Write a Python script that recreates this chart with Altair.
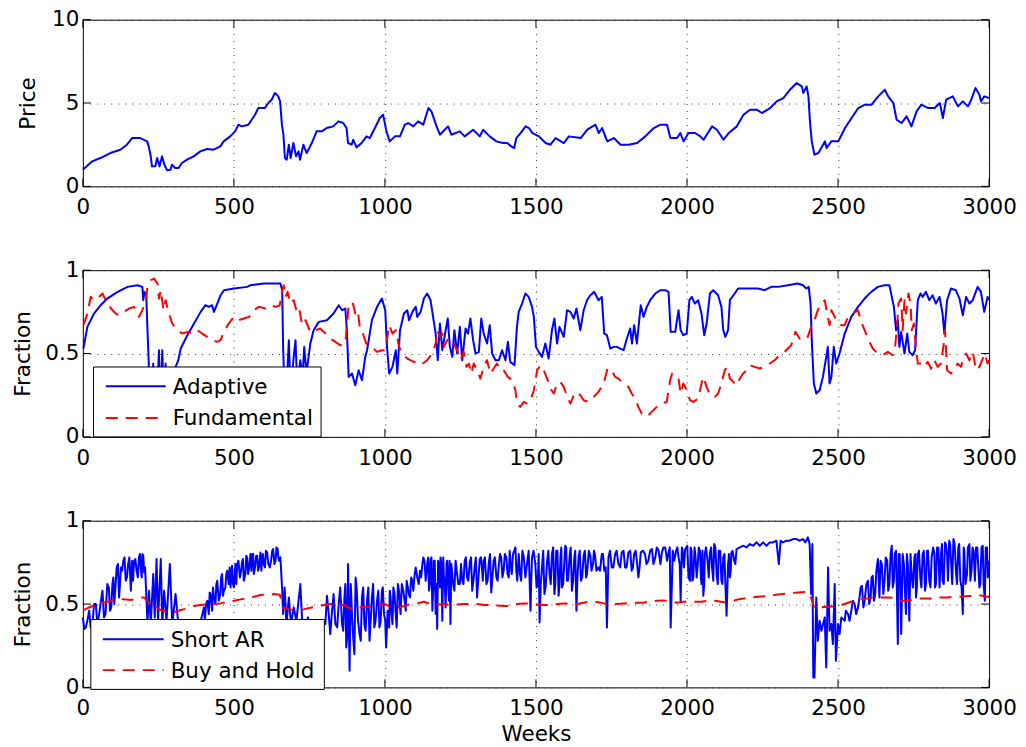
import altair as alt
import pandas as pd

# ---------------------------------------------------------------- ticks
week_ticks = [0, 500, 1000, 1500, 2000, 2500, 3000]
price_ticks = [0, 5, 10]
fraction_ticks = [0, 0.5, 1]

# ---------------------------------------------------------------- price
price_weeks = [0, 31, 58, 91, 124, 146, 163, 190, 213, 218, 224, 229, 240, 246, 254, 262, 270, 279, 290, 295,
               306, 317, 328, 345, 367, 389, 411, 433, 455, 466, 488, 504, 515, 526, 548, 559, 570, 581, 603, 614,
               625, 636, 647, 653, 659, 664, 669, 675, 682, 688, 697, 706, 714, 719, 730, 741, 758, 774, 791, 807,
               829, 846, 862, 873, 878, 890, 895, 906, 923, 939, 950, 967, 983, 994, 1005, 1016, 1033, 1050, 1066, 1077,
               1094, 1110, 1127, 1144, 1154, 1171, 1182, 1198, 1209, 1220, 1248, 1264, 1292, 1314, 1325, 1347, 1369, 1391, 1405, 1418,
               1428, 1435, 1449, 1466, 1477, 1488, 1510, 1532, 1548, 1565, 1592, 1609, 1648, 1670, 1697, 1708, 1719, 1736, 1758, 1780,
               1807, 1835, 1862, 1890, 1912, 1934, 1945, 1967, 1978, 1989, 2005, 2027, 2044, 2055, 2083, 2099, 2121, 2138, 2165, 2187,
               2209, 2231, 2248, 2275, 2297, 2319, 2341, 2363, 2380, 2385, 2396, 2402, 2407, 2413, 2422, 2435, 2457, 2462, 2478, 2501,
               2523, 2545, 2567, 2589, 2611, 2633, 2655, 2666, 2683, 2694, 2710, 2727, 2743, 2760, 2776, 2798, 2820, 2837, 2847, 2858,
               2880, 2897, 2913, 2930, 2941, 2955, 2968, 2973, 2984, 3000]
price_values = [1.0, 1.5, 1.7, 2.0, 2.2, 2.5, 2.9, 2.9, 2.7, 2.4, 1.9, 1.2, 1.2, 1.7, 1.2, 1.8, 1.3, 0.96, 1.0, 1.3,
                1.1, 1.1, 1.4, 1.6, 1.8, 2.1, 2.24, 2.2, 2.4, 2.7, 3.0, 3.3, 3.7, 3.6, 3.7, 4.0, 4.3, 4.7, 4.7, 5.0,
                5.2, 5.6, 5.4, 5.1, 3.7, 3.1, 1.7, 1.6, 2.5, 1.7, 2.6, 1.8, 2.1, 1.6, 2.5, 2.0, 2.6, 3.3, 3.3, 3.5,
                3.6, 3.9, 3.8, 3.5, 2.6, 2.5, 2.8, 2.34, 2.6, 3.0, 2.9, 3.5, 4.1, 4.3, 3.3, 2.7, 3.0, 3.0, 3.7, 3.8,
                3.6, 3.9, 3.7, 4.7, 4.5, 3.6, 3.1, 3.4, 3.6, 3.1, 3.3, 3.0, 3.4, 3.0, 3.4, 3.0, 2.7, 2.6, 2.6, 2.4,
                2.3, 2.9, 3.2, 3.6, 3.5, 3.2, 3.0, 2.6, 2.5, 2.9, 2.6, 3.0, 2.9, 3.4, 3.7, 3.2, 3.5, 2.7, 2.9, 2.5,
                2.5, 2.6, 3.0, 3.5, 3.7, 3.7, 2.9, 2.9, 3.2, 2.7, 3.2, 3.2, 3.0, 2.8, 3.6, 3.4, 2.8, 3.2, 3.6, 4.3,
                4.6, 4.6, 4.4, 4.7, 5.1, 5.3, 5.8, 6.2, 6.0, 5.6, 6.0, 5.4, 3.9, 2.7, 1.9, 2.0, 2.7, 2.3, 2.7, 2.7,
                3.5, 4.1, 4.7, 4.9, 4.9, 5.4, 5.8, 5.4, 5.0, 4.0, 3.8, 4.2, 3.6, 4.5, 4.9, 4.7, 4.7, 5.0, 4.1, 5.2,
                5.4, 4.8, 5.1, 4.8, 5.2, 5.9, 5.5, 5.1, 5.4, 5.3]

# ---------------------------------------------------------------- adaptive fraction
adaptive_weeks = [2, 15, 37, 59, 81, 115, 148, 181, 197, 200, 204, 210, 214, 217, 221, 226, 233, 238, 245, 252,
                  256, 263, 268, 274, 280, 290, 300, 307, 316, 324, 346, 368, 390, 406, 417, 428, 434, 445, 456, 467,
                  500, 544, 555, 599, 654, 660, 663, 667, 672, 682, 688, 697, 704, 710, 720, 727, 733, 740, 753, 764,
                  781, 808, 830, 847, 858, 869, 874, 880, 891, 902, 913, 924, 935, 941, 957, 974, 990, 1001, 1007, 1014,
                  1025, 1036, 1041, 1050, 1063, 1074, 1080, 1091, 1102, 1107, 1118, 1129, 1140, 1151, 1162, 1168, 1175, 1182, 1190, 1201,
                  1208, 1215, 1223, 1230, 1239, 1248, 1256, 1267, 1275, 1283, 1292, 1300, 1311, 1319, 1327, 1338, 1347, 1355, 1366, 1377,
                  1388, 1399, 1407, 1415, 1429, 1437, 1443, 1454, 1465, 1476, 1487, 1493, 1500, 1509, 1520, 1531, 1542, 1553, 1561, 1570,
                  1578, 1592, 1603, 1614, 1625, 1634, 1647, 1658, 1669, 1680, 1693, 1707, 1718, 1726, 1735, 1746, 1757, 1768, 1779, 1790,
                  1801, 1812, 1818, 1825, 1834, 1847, 1856, 1867, 1878, 1895, 1911, 1928, 1939, 1946, 1961, 1972, 1979, 1988, 1999, 2008,
                  2016, 2026, 2037, 2048, 2057, 2065, 2076, 2087, 2103, 2114, 2120, 2127, 2136, 2142, 2158, 2169, 2202, 2235, 2257, 2279,
                  2301, 2334, 2367, 2384, 2395, 2403, 2409, 2414, 2420, 2428, 2439, 2450, 2461, 2466, 2472, 2478, 2486, 2494, 2505, 2522,
                  2544, 2566, 2588, 2610, 2632, 2654, 2670, 2678, 2685, 2692, 2698, 2703, 2709, 2720, 2729, 2736, 2747, 2755, 2764, 2773,
                  2780, 2791, 2802, 2813, 2824, 2836, 2846, 2852, 2861, 2874, 2890, 2902, 2913, 2924, 2935, 2946, 2962, 2973, 2984, 2995,
                  3000]
adaptive_values = [0.53, 0.66, 0.74, 0.79, 0.83, 0.87, 0.90, 0.91, 0.90, 0.82, 0.87, 0.85, 0.64, 0.50, 0.30, 0.15, 0.44, 0.12, 0.20, 0.52,
                   0.15, 0.52, 0.20, 0.44, 0.15, 0.12, 0.25, 0.42, 0.46, 0.53, 0.61, 0.68, 0.75, 0.79, 0.78, 0.79, 0.75, 0.80, 0.85, 0.88,
                   0.89, 0.90, 0.91, 0.92, 0.92, 0.88, 0.54, 0.30, 0.20, 0.58, 0.25, 0.46, 0.58, 0.30, 0.46, 0.35, 0.54, 0.38, 0.56, 0.64,
                   0.69, 0.70, 0.74, 0.79, 0.76, 0.77, 0.64, 0.36, 0.38, 0.31, 0.40, 0.34, 0.48, 0.52, 0.70, 0.78, 0.83, 0.76, 0.54, 0.38,
                   0.42, 0.52, 0.38, 0.64, 0.74, 0.76, 0.70, 0.75, 0.78, 0.72, 0.75, 0.83, 0.86, 0.82, 0.69, 0.62, 0.46, 0.68, 0.52, 0.64,
                   0.71, 0.54, 0.48, 0.64, 0.50, 0.66, 0.46, 0.65, 0.62, 0.71, 0.58, 0.50, 0.51, 0.71, 0.62, 0.56, 0.67, 0.50, 0.46, 0.46,
                   0.52, 0.46, 0.57, 0.45, 0.43, 0.66, 0.75, 0.80, 0.86, 0.84, 0.78, 0.72, 0.54, 0.51, 0.48, 0.56, 0.47, 0.64, 0.71, 0.56,
                   0.66, 0.60, 0.76, 0.75, 0.71, 0.77, 0.64, 0.76, 0.82, 0.85, 0.87, 0.82, 0.84, 0.62, 0.61, 0.53, 0.54, 0.54, 0.53, 0.52,
                   0.59, 0.65, 0.56, 0.67, 0.56, 0.79, 0.72, 0.78, 0.82, 0.86, 0.88, 0.88, 0.87, 0.63, 0.63, 0.76, 0.64, 0.61, 0.62, 0.82,
                   0.84, 0.80, 0.82, 0.74, 0.61, 0.68, 0.86, 0.88, 0.85, 0.78, 0.64, 0.60, 0.64, 0.82, 0.86, 0.89, 0.89, 0.89, 0.88, 0.90,
                   0.90, 0.91, 0.92, 0.91, 0.89, 0.90, 0.80, 0.54, 0.32, 0.26, 0.28, 0.36, 0.48, 0.54, 0.32, 0.36, 0.54, 0.44, 0.50, 0.62,
                   0.72, 0.78, 0.83, 0.87, 0.90, 0.91, 0.91, 0.84, 0.78, 0.64, 0.70, 0.54, 0.63, 0.50, 0.62, 0.51, 0.49, 0.52, 0.82, 0.86,
                   0.84, 0.87, 0.82, 0.85, 0.80, 0.84, 0.74, 0.62, 0.82, 0.89, 0.88, 0.83, 0.73, 0.84, 0.80, 0.82, 0.90, 0.87, 0.75, 0.84,
                   0.82]

# ---------------------------------------------------------------- fundamental fraction
fundamental_weeks = [2, 15, 26, 37, 54, 65, 81, 98, 109, 120, 136, 153, 169, 186, 197, 208, 214, 225, 236, 247,
                     252, 258, 267, 274, 285, 296, 313, 329, 346, 362, 379, 395, 412, 428, 445, 456, 467, 483, 500, 516,
                     533, 550, 566, 583, 605, 621, 638, 652, 660, 665, 671, 678, 687, 698, 707, 715, 726, 737, 753, 770,
                     786, 803, 819, 836, 852, 869, 880, 888, 894, 902, 910, 918, 927, 938, 952, 962, 974, 990, 998, 1007,
                     1014, 1025, 1036, 1047, 1058, 1074, 1096, 1118, 1140, 1157, 1168, 1173, 1182, 1190, 1195, 1206, 1217, 1228, 1239, 1250,
                     1261, 1270, 1278, 1286, 1294, 1305, 1316, 1327, 1338, 1349, 1360, 1371, 1382, 1393, 1407, 1421, 1432, 1437, 1448, 1460,
                     1471, 1482, 1493, 1504, 1515, 1526, 1537, 1548, 1559, 1570, 1581, 1592, 1603, 1614, 1625, 1636, 1647, 1658, 1674, 1691,
                     1707, 1724, 1737, 1751, 1762, 1773, 1790, 1806, 1817, 1828, 1839, 1850, 1867, 1883, 1900, 1917, 1933, 1944, 1951, 1961,
                     1972, 1979, 1988, 1999, 2010, 2021, 2037, 2048, 2054, 2065, 2076, 2092, 2103, 2114, 2125, 2134, 2142, 2153, 2164, 2175,
                     2186, 2197, 2208, 2224, 2241, 2257, 2274, 2290, 2307, 2323, 2334, 2345, 2359, 2373, 2387, 2400, 2411, 2422, 2433, 2444,
                     2456, 2464, 2472, 2478, 2489, 2500, 2511, 2522, 2533, 2549, 2566, 2577, 2588, 2604, 2615, 2626, 2637, 2648, 2665, 2681,
                     2689, 2696, 2700, 2709, 2714, 2720, 2725, 2733, 2740, 2744, 2751, 2758, 2764, 2775, 2786, 2797, 2808, 2819, 2830, 2841,
                     2850, 2854, 2861, 2874, 2885, 2896, 2907, 2916, 2924, 2935, 2946, 2957, 2968, 2979, 2986, 2995, 3000]
fundamental_values = [0.67, 0.74, 0.84, 0.82, 0.84, 0.86, 0.80, 0.76, 0.74, 0.73, 0.75, 0.77, 0.78, 0.72, 0.76, 0.81, 0.90, 0.94, 0.95, 0.92,
                      0.83, 0.88, 0.76, 0.82, 0.74, 0.68, 0.64, 0.62, 0.63, 0.62, 0.64, 0.62, 0.60, 0.58, 0.57, 0.58, 0.63, 0.68, 0.72, 0.70,
                      0.71, 0.72, 0.76, 0.78, 0.77, 0.79, 0.78, 0.79, 0.88, 0.91, 0.84, 0.87, 0.80, 0.82, 0.76, 0.78, 0.67, 0.70, 0.63, 0.64,
                      0.65, 0.62, 0.59, 0.57, 0.55, 0.56, 0.79, 0.78, 0.80, 0.74, 0.76, 0.64, 0.62, 0.56, 0.54, 0.53, 0.51, 0.52, 0.52, 0.58,
                      0.67, 0.62, 0.64, 0.54, 0.50, 0.47, 0.45, 0.43, 0.46, 0.50, 0.56, 0.64, 0.60, 0.62, 0.54, 0.58, 0.59, 0.56, 0.52, 0.46,
                      0.51, 0.42, 0.44, 0.38, 0.44, 0.40, 0.35, 0.42, 0.46, 0.38, 0.41, 0.44, 0.40, 0.40, 0.36, 0.34, 0.28, 0.20, 0.18, 0.21,
                      0.20, 0.22, 0.28, 0.40, 0.43, 0.40, 0.35, 0.29, 0.26, 0.32, 0.33, 0.30, 0.24, 0.20, 0.25, 0.27, 0.25, 0.22, 0.21, 0.24,
                      0.27, 0.32, 0.41, 0.40, 0.36, 0.35, 0.32, 0.30, 0.26, 0.23, 0.18, 0.14, 0.12, 0.15, 0.18, 0.20, 0.21, 0.34, 0.38, 0.37,
                      0.35, 0.26, 0.32, 0.28, 0.22, 0.21, 0.23, 0.32, 0.36, 0.30, 0.25, 0.24, 0.26, 0.32, 0.40, 0.42, 0.35, 0.33, 0.31, 0.35,
                      0.38, 0.40, 0.43, 0.42, 0.41, 0.42, 0.44, 0.46, 0.49, 0.51, 0.53, 0.55, 0.63, 0.59, 0.58, 0.60, 0.66, 0.70, 0.76, 0.80,
                      0.82, 0.74, 0.67, 0.76, 0.72, 0.68, 0.67, 0.67, 0.72, 0.74, 0.76, 0.69, 0.64, 0.57, 0.53, 0.51, 0.50, 0.49, 0.51, 0.49,
                      0.54, 0.68, 0.80, 0.83, 0.64, 0.82, 0.74, 0.86, 0.80, 0.64, 0.68, 0.54, 0.44, 0.44, 0.42, 0.45, 0.41, 0.46, 0.42, 0.44,
                      0.56, 0.64, 0.40, 0.38, 0.40, 0.44, 0.42, 0.48, 0.50, 0.46, 0.51, 0.40, 0.42, 0.47, 0.50, 0.44, 0.46]

# ---------------------------------------------------------------- short AR fraction (spikes)
short_ar_weeks = [0, 5, 10, 21, 32, 43, 54, 65, 70, 81, 90, 98, 104, 112, 120, 126, 134, 142, 150, 159,
                  170, 178, 186, 192, 197, 203, 208, 214, 219, 225, 233, 238, 244, 249, 258, 263, 269, 277, 288, 296,
                  307, 315, 324, 335, 345, 355, 365, 375, 388, 401, 412, 423, 434, 445, 450, 461, 467, 478, 483, 494,
                  500, 511, 520, 527, 533, 544, 550, 561, 566, 577, 583, 594, 599, 610, 619, 627, 634, 645, 650, 654,
                  660, 663, 668, 674, 682, 689, 698, 707, 720, 726, 735, 745, 755, 765, 775, 785, 803, 814, 825, 836,
                  847, 858, 866, 872, 878, 883, 891, 899, 907, 916, 924, 932, 941, 949, 957, 965, 974, 982, 990, 997,
                  1004, 1009, 1014, 1019, 1025, 1032, 1039, 1047, 1052, 1061, 1069, 1076, 1083, 1091, 1098, 1107, 1116, 1124, 1131, 1140,
                  1146, 1151, 1157, 1162, 1168, 1173, 1179, 1184, 1190, 1195, 1201, 1206, 1212, 1217, 1223, 1230, 1239, 1248, 1256, 1264,
                  1272, 1281, 1289, 1297, 1305, 1314, 1322, 1327, 1336, 1344, 1352, 1360, 1369, 1377, 1385, 1393, 1402, 1410, 1416, 1424,
                  1432, 1438, 1443, 1451, 1460, 1471, 1482, 1487, 1498, 1506, 1512, 1520, 1528, 1537, 1545, 1553, 1561, 1567, 1575, 1581,
                  1586, 1597, 1603, 1612, 1619, 1627, 1634, 1641, 1649, 1658, 1669, 1680, 1689, 1696, 1707, 1718, 1726, 1735, 1740, 1751,
                  1762, 1773, 1784, 1795, 1806, 1817, 1825, 1834, 1839, 1847, 1861, 1872, 1884, 1895, 1906, 1917, 1928, 1939, 1946, 1953,
                  1964, 1972, 1979, 1986, 1994, 2001, 2010, 2015, 2021, 2028, 2035, 2043, 2048, 2054, 2059, 2068, 2076, 2083, 2090, 2098,
                  2105, 2114, 2120, 2127, 2131, 2136, 2142, 2147, 2156, 2164, 2175, 2186, 2197, 2208, 2219, 2230, 2241, 2252, 2263, 2274,
                  2285, 2296, 2304, 2310, 2318, 2329, 2340, 2351, 2362, 2373, 2384, 2392, 2400, 2406, 2411, 2415, 2418, 2422, 2428, 2433,
                  2439, 2445, 2456, 2461, 2467, 2472, 2478, 2483, 2489, 2493, 2500, 2505, 2511, 2522, 2533, 2544, 2555, 2566, 2571, 2579,
                  2588, 2599, 2608, 2615, 2623, 2632, 2637, 2645, 2654, 2663, 2670, 2678, 2685, 2692, 2698, 2704, 2709, 2718, 2725, 2731,
                  2736, 2744, 2753, 2758, 2764, 2773, 2780, 2788, 2795, 2802, 2810, 2819, 2824, 2832, 2841, 2846, 2854, 2861, 2868, 2874,
                  2882, 2891, 2898, 2905, 2913, 2918, 2927, 2935, 2942, 2949, 2957, 2965, 2971, 2979, 2986, 2993, 3000]
short_ar_values = [0.42, 0.35, 0.36, 0.46, 0.38, 0.50, 0.44, 0.58, 0.42, 0.62, 0.46, 0.62, 0.50, 0.72, 0.54, 0.72, 0.76, 0.64, 0.74, 0.58,
                   0.76, 0.70, 0.78, 0.71, 0.80, 0.69, 0.64, 0.38, 0.58, 0.38, 0.68, 0.42, 0.77, 0.40, 0.77, 0.38, 0.58, 0.40, 0.74, 0.38,
                   0.56, 0.40, 0.38, 0.30, 0.38, 0.25, 0.36, 0.28, 0.38, 0.48, 0.52, 0.56, 0.54, 0.64, 0.52, 0.68, 0.58, 0.70, 0.62, 0.73,
                   0.60, 0.74, 0.66, 0.75, 0.64, 0.78, 0.71, 0.80, 0.68, 0.79, 0.72, 0.78, 0.74, 0.81, 0.72, 0.82, 0.74, 0.83, 0.76, 0.78,
                   0.58, 0.44, 0.60, 0.38, 0.54, 0.38, 0.48, 0.40, 0.62, 0.40, 0.35, 0.42, 0.30, 0.40, 0.32, 0.38, 0.38, 0.44, 0.46, 0.38,
                   0.50, 0.38, 0.54, 0.24, 0.74, 0.10, 0.44, 0.20, 0.58, 0.32, 0.54, 0.38, 0.52, 0.28, 0.54, 0.36, 0.52, 0.36, 0.58, 0.44,
                   0.24, 0.46, 0.36, 0.54, 0.38, 0.56, 0.36, 0.57, 0.44, 0.58, 0.46, 0.60, 0.54, 0.64, 0.67, 0.66, 0.70, 0.74, 0.76, 0.74,
                   0.58, 0.77, 0.46, 0.76, 0.44, 0.35, 0.74, 0.78, 0.40, 0.68, 0.48, 0.76, 0.52, 0.38, 0.68, 0.58, 0.68, 0.62, 0.64, 0.76,
                   0.66, 0.75, 0.58, 0.72, 0.54, 0.77, 0.70, 0.76, 0.62, 0.75, 0.57, 0.76, 0.66, 0.73, 0.78, 0.70, 0.78, 0.66, 0.74, 0.80,
                   0.84, 0.64, 0.80, 0.64, 0.78, 0.75, 0.46, 0.78, 0.74, 0.62, 0.39, 0.72, 0.56, 0.76, 0.68, 0.80, 0.56, 0.82, 0.55, 0.78,
                   0.60, 0.85, 0.64, 0.80, 0.58, 0.78, 0.46, 0.78, 0.64, 0.79, 0.68, 0.79, 0.74, 0.79, 0.72, 0.80, 0.70, 0.36, 0.78, 0.72,
                   0.80, 0.74, 0.81, 0.72, 0.81, 0.70, 0.80, 0.76, 0.66, 0.81, 0.80, 0.76, 0.83, 0.78, 0.82, 0.81, 0.84, 0.81, 0.36, 0.82,
                   0.82, 0.78, 0.52, 0.82, 0.83, 0.85, 0.64, 0.82, 0.66, 0.79, 0.72, 0.82, 0.62, 0.55, 0.80, 0.76, 0.81, 0.72, 0.86, 0.68,
                   0.82, 0.64, 0.78, 0.62, 0.43, 0.74, 0.66, 0.81, 0.76, 0.83, 0.84, 0.85, 0.84, 0.86, 0.85, 0.87, 0.85, 0.87, 0.85, 0.87,
                   0.87, 0.88, 0.74, 0.88, 0.87, 0.88, 0.88, 0.89, 0.89, 0.88, 0.89, 0.87, 0.90, 0.86, 0.56, 0.86, 0.06, 0.06, 0.54, 0.28,
                   0.40, 0.34, 0.42, 0.12, 0.72, 0.34, 0.38, 0.26, 0.62, 0.16, 0.38, 0.32, 0.42, 0.40, 0.44, 0.46, 0.50, 0.48, 0.54, 0.61,
                   0.52, 0.64, 0.54, 0.67, 0.56, 0.77, 0.54, 0.74, 0.64, 0.76, 0.62, 0.85, 0.64, 0.82, 0.26, 0.80, 0.32, 0.74, 0.44, 0.74,
                   0.40, 0.66, 0.78, 0.54, 0.80, 0.64, 0.80, 0.58, 0.82, 0.64, 0.78, 0.80, 0.62, 0.84, 0.80, 0.64, 0.87, 0.80, 0.88, 0.76,
                   0.89, 0.68, 0.84, 0.64, 0.44, 0.82, 0.68, 0.86, 0.70, 0.82, 0.84, 0.70, 0.62, 0.85, 0.52, 0.84, 0.76]

# ---------------------------------------------------------------- short AR fraction (dense band between the spikes)
short_ar_band_weeks = [15, 26, 37, 48, 60, 75, 86, 94, 101, 108, 116, 123, 130, 138, 146, 154, 163, 166, 174, 182,
                       189, 195, 200, 206, 404, 408, 417, 420, 428, 431, 439, 442, 455, 458, 464, 472, 475, 486, 489, 497,
                       505, 508, 515, 524, 530, 538, 541, 547, 555, 558, 564, 570, 574, 580, 588, 591, 596, 603, 606, 614,
                       623, 630, 638, 641, 647, 808, 819, 830, 842, 852, 862, 869, 875, 887, 895, 903, 911, 920, 928, 936,
                       945, 953, 961, 969, 978, 986, 993, 1001, 1011, 1016, 1022, 1028, 1035, 1043, 1050, 1056, 1065, 1072, 1079, 1087,
                       1094, 1102, 1112, 1120, 1127, 1135, 1143, 1149, 1154, 1160, 1165, 1171, 1176, 1182, 1187, 1193, 1198, 1204, 1209, 1214,
                       1220, 1226, 1234, 1243, 1252, 1260, 1268, 1276, 1285, 1293, 1301, 1309, 1318, 1324, 1331, 1340, 1348, 1356, 1364, 1373,
                       1381, 1389, 1397, 1406, 1413, 1420, 1428, 1435, 1447, 1455, 1465, 1476, 1484, 1492, 1502, 1509, 1516, 1524, 1532, 1541,
                       1549, 1557, 1564, 1571, 1578, 1584, 1590, 1600, 1606, 1615, 1623, 1630, 1637, 1645, 1653, 1662, 1666, 1675, 1684, 1692,
                       1700, 1712, 1722, 1731, 1745, 1756, 1767, 1779, 1790, 1800, 1812, 1821, 1830, 1843, 1854, 1866, 1878, 1889, 1900, 1912,
                       1922, 1934, 1943, 1958, 1968, 1976, 1983, 1990, 1998, 2005, 2012, 2018, 2025, 2032, 2039, 2046, 2051, 2057, 2063, 2072,
                       2080, 2087, 2094, 2102, 2110, 2117, 2124, 2139, 2145, 2151, 2160, 2526, 2538, 2549, 2560, 2575, 2584, 2594, 2603, 2611,
                       2619, 2627, 2641, 2650, 2658, 2666, 2674, 2681, 2688, 2695, 2701, 2707, 2714, 2721, 2728, 2734, 2740, 2748, 2756, 2761,
                       2768, 2776, 2784, 2791, 2798, 2806, 2815, 2821, 2828, 2836, 2844, 2850, 2857, 2864, 2871, 2878, 2886, 2894, 2901, 2909,
                       2916, 2922, 2930, 2938, 2945, 2953, 2961, 2968, 2975, 2982, 2989, 2996]
short_ar_band_values = [0.40, 0.36, 0.50, 0.38, 0.52, 0.44, 0.60, 0.48, 0.66, 0.60, 0.74, 0.62, 0.70, 0.78, 0.66, 0.78, 0.76, 0.64, 0.77, 0.66,
                        0.80, 0.66, 0.79, 0.72, 0.40, 0.50, 0.44, 0.57, 0.46, 0.60, 0.50, 0.62, 0.56, 0.66, 0.55, 0.60, 0.68, 0.72, 0.60, 0.62,
                        0.74, 0.62, 0.76, 0.70, 0.77, 0.68, 0.79, 0.68, 0.80, 0.70, 0.80, 0.72, 0.79, 0.70, 0.81, 0.70, 0.80, 0.72, 0.82, 0.74,
                        0.76, 0.83, 0.76, 0.84, 0.78, 0.55, 0.32, 0.56, 0.36, 0.60, 0.34, 0.62, 0.30, 0.62, 0.30, 0.66, 0.40, 0.28, 0.60, 0.34,
                        0.60, 0.40, 0.62, 0.40, 0.58, 0.40, 0.60, 0.40, 0.40, 0.58, 0.44, 0.60, 0.46, 0.62, 0.48, 0.62, 0.52, 0.64, 0.56, 0.66,
                        0.58, 0.72, 0.62, 0.66, 0.78, 0.64, 0.78, 0.62, 0.78, 0.60, 0.76, 0.62, 0.76, 0.60, 0.74, 0.78, 0.62, 0.74, 0.62, 0.76,
                        0.74, 0.62, 0.76, 0.62, 0.74, 0.62, 0.78, 0.64, 0.78, 0.64, 0.78, 0.64, 0.78, 0.64, 0.78, 0.64, 0.80, 0.66, 0.78, 0.64,
                        0.80, 0.66, 0.80, 0.68, 0.82, 0.68, 0.82, 0.70, 0.68, 0.82, 0.66, 0.82, 0.62, 0.82, 0.60, 0.80, 0.62, 0.82, 0.60, 0.82,
                        0.62, 0.84, 0.62, 0.82, 0.62, 0.84, 0.62, 0.84, 0.64, 0.84, 0.64, 0.82, 0.64, 0.82, 0.66, 0.82, 0.66, 0.82, 0.70, 0.82,
                        0.70, 0.70, 0.80, 0.72, 0.82, 0.72, 0.82, 0.72, 0.82, 0.72, 0.82, 0.72, 0.82, 0.72, 0.82, 0.74, 0.82, 0.74, 0.84, 0.74,
                        0.84, 0.76, 0.84, 0.76, 0.84, 0.74, 0.84, 0.72, 0.84, 0.66, 0.84, 0.64, 0.84, 0.66, 0.84, 0.66, 0.82, 0.62, 0.84, 0.66,
                        0.84, 0.64, 0.84, 0.62, 0.82, 0.62, 0.80, 0.80, 0.70, 0.82, 0.74, 0.46, 0.40, 0.52, 0.44, 0.60, 0.48, 0.62, 0.50, 0.66,
                        0.52, 0.70, 0.76, 0.56, 0.78, 0.58, 0.80, 0.60, 0.80, 0.56, 0.80, 0.58, 0.80, 0.60, 0.80, 0.56, 0.80, 0.60, 0.80, 0.60,
                        0.82, 0.60, 0.82, 0.62, 0.82, 0.60, 0.84, 0.60, 0.84, 0.60, 0.86, 0.62, 0.86, 0.64, 0.86, 0.62, 0.86, 0.62, 0.86, 0.60,
                        0.84, 0.62, 0.84, 0.64, 0.84, 0.64, 0.84, 0.60, 0.84, 0.62, 0.84, 0.66]

# ---------------------------------------------------------------- buy-and-hold fraction
buy_hold_weeks = [2, 26, 59, 92, 126, 159, 181, 203, 219, 230, 241, 258, 274, 291, 307, 324, 346, 368, 390, 412,
                  434, 456, 478, 500, 522, 544, 566, 588, 610, 632, 652, 660, 665, 687, 709, 731, 753, 775, 797, 819,
                  841, 863, 885, 907, 929, 952, 974, 996, 1007, 1019, 1041, 1063, 1085, 1107, 1129, 1151, 1173, 1195, 1217, 1239,
                  1261, 1283, 1305, 1327, 1349, 1371, 1393, 1415, 1437, 1460, 1482, 1504, 1526, 1548, 1570, 1592, 1614, 1636, 1658, 1680,
                  1702, 1724, 1746, 1768, 1790, 1812, 1834, 1856, 1878, 1900, 1922, 1944, 1966, 1988, 2010, 2026, 2048, 2070, 2092, 2114,
                  2136, 2169, 2202, 2235, 2268, 2301, 2334, 2367, 2389, 2406, 2414, 2422, 2445, 2467, 2489, 2511, 2533, 2555, 2577, 2599,
                  2621, 2643, 2665, 2681, 2692, 2709, 2731, 2753, 2775, 2797, 2819, 2841, 2863, 2885, 2907, 2929, 2951, 2973, 2990, 3000]
buy_hold_values = [0.464, 0.484, 0.504, 0.518, 0.530, 0.524, 0.534, 0.540, 0.504, 0.474, 0.484, 0.464, 0.454, 0.454, 0.454, 0.464, 0.474, 0.488, 0.494, 0.500,
                   0.500, 0.504, 0.514, 0.520, 0.528, 0.534, 0.544, 0.554, 0.558, 0.560, 0.556, 0.504, 0.474, 0.468, 0.464, 0.468, 0.478, 0.484, 0.494, 0.500,
                   0.500, 0.494, 0.474, 0.474, 0.484, 0.484, 0.494, 0.504, 0.494, 0.480, 0.478, 0.488, 0.500, 0.504, 0.514, 0.500, 0.498, 0.500, 0.494, 0.498,
                   0.500, 0.500, 0.500, 0.494, 0.494, 0.492, 0.488, 0.488, 0.500, 0.504, 0.504, 0.498, 0.494, 0.494, 0.500, 0.504, 0.504, 0.500, 0.508, 0.516,
                   0.512, 0.504, 0.500, 0.500, 0.504, 0.504, 0.508, 0.508, 0.516, 0.520, 0.522, 0.516, 0.508, 0.514, 0.514, 0.514, 0.514, 0.520, 0.520, 0.514,
                   0.508, 0.528, 0.538, 0.544, 0.548, 0.558, 0.564, 0.570, 0.572, 0.564, 0.520, 0.474, 0.480, 0.484, 0.488, 0.494, 0.508, 0.520, 0.528, 0.534,
                   0.538, 0.540, 0.540, 0.538, 0.528, 0.520, 0.520, 0.528, 0.534, 0.534, 0.534, 0.540, 0.540, 0.544, 0.544, 0.548, 0.548, 0.552, 0.544, 0.544]

legend_top = ["Adaptive", "Fundamental"]
legend_bottom = ["Short AR", "Buy and Hold"]

# ---------------------------------------------------------------- styling
FONT = "DejaVu Sans"
FS = 21.5
W, H = 908, 167
MARGIN_LEFT, MARGIN_TOP, MARGIN_RIGHT, MARGIN_BOTTOM = 82, 18, 36, 60
BLUE, RED = "#0000ff", "#ff0000"
DASH = [12, 8]
GRID = dict(grid=True, gridColor="#333333", gridDash=[1, 6], gridWidth=1, gridOpacity=1)

x_scale = alt.Scale(domain=[0, 3000], nice=False, zero=False)
one_row = pd.DataFrame({"k": [0]})


def x_axis(title=None):
    kw = dict(values=week_ticks, format="d", labelFont=FONT, labelFontSize=FS, labelColor="black",
              labelPadding=10.5, labelFlush=False, labelOverlap=False, ticks=False, domain=False, **GRID)
    if title:
        kw.update(title=title, titleFont=FONT, titleFontSize=FS, titleFontWeight="normal", titleColor="black",
                  titleX=W / 2, titleY=53.4, titleAlign="center", titleBaseline="alphabetic", titleAngle=0)
    else:
        kw["title"] = None
    return alt.Axis(**kw)


def y_axis(values, fmt, title, title_x):
    return alt.Axis(values=values, format=fmt, labelFont=FONT, labelFontSize=FS, labelColor="black",
                    labelPadding=4, labelOverlap=False, labelFlush=False, ticks=False, domain=False, **GRID,
                    title=title, titleFont=FONT, titleFontSize=FS, titleFontWeight="normal", titleColor="black",
                    titleAngle=270, titleAlign="center", titleBaseline="alphabetic", titleX=title_x, titleY=H / 2)


def legend_layers(box, sample_x, text_x, rows, labels):
    out = [alt.Chart(one_row).mark_rect(fill="white", stroke="black", strokeWidth=1).encode(
        x=alt.value(box[0]), x2=alt.value(box[1]), y=alt.value(box[2]), y2=alt.value(box[3]))]
    styles = [(BLUE, None), (RED, DASH)]
    for (sy, ty), label, (color, dash) in zip(rows, labels, styles):
        kw = dict(color=color, strokeWidth=2)
        if dash:
            kw["strokeDash"] = dash
        out.append(alt.Chart(one_row).mark_rule(**kw).encode(
            x=alt.value(sample_x[0]), x2=alt.value(sample_x[1]), y=alt.value(sy)))
        out.append(alt.Chart(one_row).mark_text(align="left", baseline="middle", font=FONT, fontSize=FS,
                                                color="black", text=label).encode(x=alt.value(text_x), y=alt.value(ty)))
    return out


def frame_anchor(y):
    # invisible full-width guide that fixes the outer margins of the figure
    return alt.Chart(one_row).mark_rule(strokeWidth=0.01, strokeOpacity=0).encode(
        x=alt.value(-MARGIN_LEFT), x2=alt.value(W + MARGIN_RIGHT), y=alt.value(y))


def series_frame(weeks, values):
    return pd.DataFrame({"week": weeks, "value": values}).sort_values("week", kind="stable")


def panel(series, y_domain, y_ticks, y_fmt, y_title, title_x, legend=None, x_title=None, anchor=None):
    X = alt.X("week:Q", scale=x_scale, axis=x_axis(x_title))
    Y = alt.Y("value:Q", scale=alt.Scale(domain=y_domain, nice=False, zero=False),
              axis=y_axis(y_ticks, y_fmt, y_title, title_x))
    layers = []
    for df, color, dash in series:
        kw = dict(color=color, strokeWidth=2, strokeJoin="round")
        if dash:
            kw["strokeDash"] = dash
        layers.append(alt.Chart(df).mark_line(**kw).encode(x=X, y=Y, order="idx:Q"))
    xt = pd.DataFrame({"week": week_ticks})
    yt = pd.DataFrame({"value": y_ticks})
    tick = dict(color="black", strokeWidth=1)
    layers += [
        alt.Chart(xt).mark_rule(**tick).encode(x=X, y=alt.value(H - 8), y2=alt.value(H)),
        alt.Chart(xt).mark_rule(**tick).encode(x=X, y=alt.value(0), y2=alt.value(8)),
        alt.Chart(yt).mark_rule(**tick).encode(y=Y, x=alt.value(0), x2=alt.value(8)),
        alt.Chart(yt).mark_rule(**tick).encode(y=Y, x=alt.value(W - 8), x2=alt.value(W)),
    ]
    if legend:
        layers += legend_layers(*legend)
    if anchor is not None:
        layers.append(frame_anchor(anchor))
    return alt.layer(*layers).properties(width=W, height=H)


def line_data(weeks, values):
    df = series_frame(weeks, values).reset_index(drop=True)
    df["idx"] = range(len(df))
    return df


short_ar = line_data(short_ar_weeks + short_ar_band_weeks, short_ar_values + short_ar_band_values)

top = panel([(line_data(price_weeks, price_values), BLUE, None)], [0, 10], price_ticks, "d", "Price", -48.7,
            anchor=-MARGIN_TOP)

middle = panel([(line_data(adaptive_weeks, adaptive_values), BLUE, None),
                (line_data(fundamental_weeks, fundamental_values), RED, DASH)],
               [0, 1], fraction_ticks, ".1~f", "Fraction", -53.7,
               legend=((10.7, 238.7, 97, 167), (23, 83), 90, [(116.3, 117.7), (148, 149.4)], legend_top))

bottom = panel([(short_ar, BLUE, None),
                (line_data(buy_hold_weeks, buy_hold_values), RED, DASH)],
               [0, 1], fraction_ticks, ".1~f", "Fraction", -53.7,
               legend=((8, 242, 99, 169), (20, 81), 88, [(118.7, 120.1), (149.7, 151.1)], legend_bottom),
               x_title="Weeks", anchor=H + MARGIN_BOTTOM)

chart = (
    alt.vconcat(top, middle, bottom, spacing=84, bounds="flush")
    .properties(autosize=alt.AutoSizeParams(type="pad"), padding=0)
    .configure(font=FONT, background="white")
    .configure_view(stroke="black", strokeWidth=1)
)

chart.save("out.html", embed_options={"renderer": "svg", "actions": False})
